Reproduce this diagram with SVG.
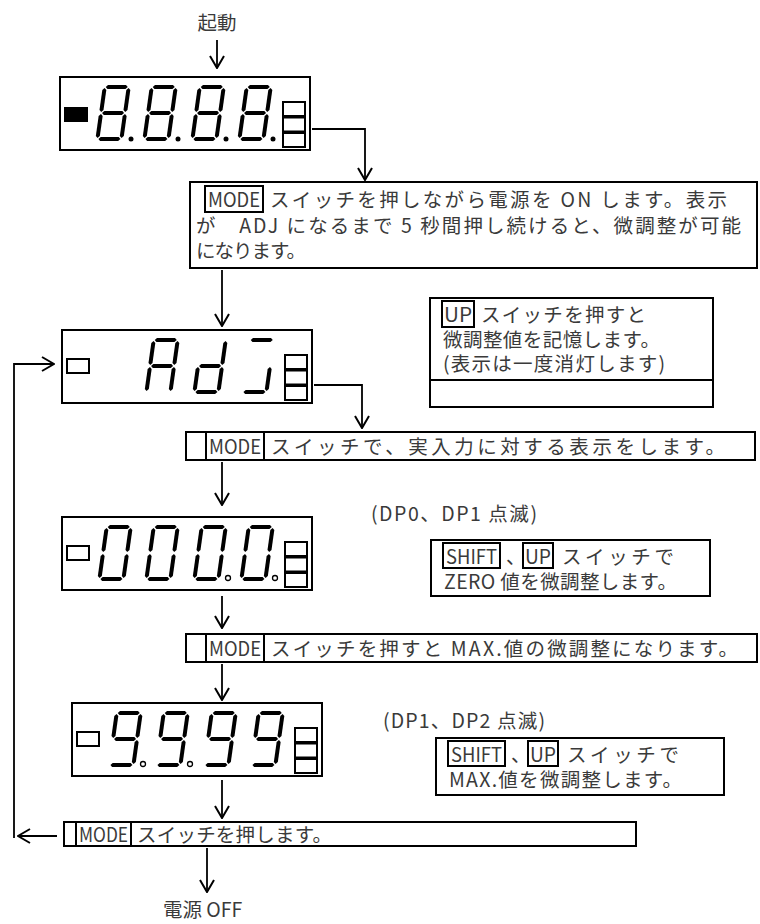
<svg xmlns="http://www.w3.org/2000/svg" xmlns:xlink="http://www.w3.org/1999/xlink" width="760" height="924" viewBox="0 0 760 924">
<style>
.box{fill:#fff;stroke:#000;stroke-width:2}
.kb{fill:none;stroke:#000;stroke-width:2}
.t{font-family:"Noto Sans CJK JP","Noto Sans",sans-serif;font-size:19.5px;fill:#3a3a3a}
.c{fill:none;stroke:#000;stroke-width:1.8}
.seg{fill:#000}
.dotf{fill:#000}
.doth{fill:#fff;stroke:#000;stroke-width:1.3}
.ind{fill:#fff;stroke:#000;stroke-width:2}
</style>
<defs>
<marker id="ah" viewBox="0 0 14 16" refX="13" refY="8" markerWidth="14" markerHeight="16" markerUnits="userSpaceOnUse" orient="auto">
<path d="M1,1 L13,8 L1,15" fill="none" stroke="#000" stroke-width="2"/>
</marker>
<polygon id="sa" points="3,2 5,0 23,0 25,2 23,4 5,4"/>
<polygon id="sb" points="26,3 28,5 28,25 26,27 24,25 24,5"/>
<polygon id="sc" points="26,29 28,31 28,51 26,53 24,51 24,31"/>
<polygon id="sd" points="3,54 5,52 23,52 25,54 23,56 5,56"/>
<polygon id="se" points="2,29 4,31 4,51 2,53 0,51 0,31"/>
<polygon id="sf" points="2,3 4,5 4,25 2,27 0,25 0,5"/>
<polygon id="sg" points="3,28 5,26 23,26 25,28 23,30 5,30"/>
<g id="d8" class="seg"><use href="#sa"/><use href="#sb"/><use href="#sc"/><use href="#sd"/><use href="#se"/><use href="#sf"/><use href="#sg"/></g>
<g id="d0" class="seg"><use href="#sa"/><use href="#sb"/><use href="#sc"/><use href="#sd"/><use href="#se"/><use href="#sf"/></g>
<g id="d9" class="seg"><use href="#sa"/><use href="#sb"/><use href="#sc"/><use href="#sd"/><use href="#sf"/><use href="#sg"/></g>
<g id="dA" class="seg"><use href="#sa"/><use href="#sb"/><use href="#sc"/><use href="#se"/><use href="#sf"/><use href="#sg"/></g>
<g id="dd" class="seg"><use href="#sb"/><use href="#sc"/><use href="#sd"/><use href="#se"/><use href="#sg"/></g>
<g id="dj" class="seg"><use href="#sa"/><use href="#sc"/><use href="#sd"/></g>
<g id="stack"><rect x="0" y="0" width="22" height="14" class="ind"/><rect x="0" y="15.5" width="22" height="14" class="ind"/><rect x="0" y="31" width="22" height="14" class="ind"/></g>
</defs>

<text class="t" x="217" y="30" text-anchor="middle">起動</text>

<g id="display1">
<rect class="box" x="60" y="77" width="250" height="73"/>
<rect x="64" y="107" width="24" height="15" fill="#000"/>
<use href="#d8" transform="translate(103,85) skewX(-8)"/>
<use href="#d8" transform="translate(150,85) skewX(-8)"/>
<use href="#d8" transform="translate(198,85) skewX(-8)"/>
<use href="#d8" transform="translate(245,85) skewX(-8)"/>
<circle class="dotf" cx="131" cy="139" r="2.5"/>
<circle class="dotf" cx="178" cy="139" r="2.5"/>
<circle class="dotf" cx="226" cy="139" r="2.5"/>
<circle class="dotf" cx="273" cy="139" r="2.5"/>
<use href="#stack" x="283" y="102"/>
</g>

<g id="box1">
<rect class="box" x="190" y="182" width="567" height="86"/>
<rect class="kb" x="205" y="186" width="58" height="26"/>
<text class="t" x="208" y="207" textLength="52" lengthAdjust="spacingAndGlyphs">MODE</text>
<text class="t" x="270" y="207" textLength="457" lengthAdjust="spacing">スイッチを押しながら電源を ON します。表示</text>
<text class="t" x="196" y="233" textLength="545" lengthAdjust="spacing">が　ADJ になるまで 5 秒間押し続けると、微調整が可能</text>
<text class="t" x="196" y="258" textLength="110" lengthAdjust="spacing">になります。</text>
</g>

<g id="display2">
<rect class="box" x="62" y="330" width="250" height="73"/>
<rect class="ind" x="67" y="359" width="22" height="14"/>
<use href="#dA" transform="translate(152,338) skewX(-8)"/>
<use href="#dd" transform="translate(200,338) skewX(-8)"/>
<use href="#dj" transform="translate(248,338) skewX(-8)"/>
<use href="#stack" x="285" y="355"/>
</g>

<g id="upbox">
<rect class="box" x="430" y="298" width="283" height="109"/>
<line x1="430" y1="380" x2="713" y2="380" stroke="#000" stroke-width="2"/>
<rect class="kb" x="442" y="301" width="32" height="26"/>
<text class="t" x="444" y="322" textLength="28" lengthAdjust="spacingAndGlyphs">UP</text>
<text class="t" x="481" y="322" textLength="165" lengthAdjust="spacing">スイッチを押すと</text>
<text class="t" x="443" y="347" textLength="217" lengthAdjust="spacing">微調整値を記憶します。</text>
<text class="t" x="443" y="371" textLength="222" lengthAdjust="spacing">(表示は一度消灯します)</text>
</g>

<g id="bar2">
<rect class="box" x="186" y="432" width="569" height="28"/>
<rect class="kb" x="206" y="432" width="58" height="28"/>
<text class="t" x="209" y="454" textLength="52" lengthAdjust="spacingAndGlyphs">MODE</text>
<text class="t" x="271" y="454" textLength="454" lengthAdjust="spacing">スイッチで、実入力に対する表示をします。</text>
</g>

<g id="display3">
<rect class="box" x="62" y="517" width="250" height="73"/>
<rect class="ind" x="67" y="546" width="22" height="14"/>
<use href="#d0" transform="translate(105,525) skewX(-8)"/>
<use href="#d0" transform="translate(152,525) skewX(-8)"/>
<use href="#d0" transform="translate(200,525) skewX(-8)"/>
<use href="#d0" transform="translate(247,525) skewX(-8)"/>
<circle class="doth" cx="228" cy="578" r="2.5"/>
<circle class="doth" cx="275" cy="578" r="2.5"/>
<use href="#stack" x="285" y="542"/>
</g>

<text class="t" x="371" y="521" textLength="166" lengthAdjust="spacing">(DP0、DP1 点滅)</text>

<g id="shift1">
<rect class="box" x="431" y="540" width="279" height="56"/>
<rect class="kb" x="443" y="543" width="57" height="25"/>
<text class="t" x="446" y="564" textLength="51" lengthAdjust="spacingAndGlyphs">SHIFT</text>
<text class="t" x="506" y="564">、</text>
<rect class="kb" x="523" y="543" width="30" height="25"/>
<text class="t" x="525" y="564" textLength="26" lengthAdjust="spacingAndGlyphs">UP</text>
<text class="t" x="562" y="564" textLength="112" lengthAdjust="spacing">スイッチで</text>
<text class="t" x="444" y="589" textLength="233" lengthAdjust="spacing">ZERO 値を微調整します。</text>
</g>

<g id="bar3">
<rect class="box" x="186" y="634" width="571" height="28"/>
<rect class="kb" x="206" y="634" width="58" height="28"/>
<text class="t" x="209" y="656" textLength="52" lengthAdjust="spacingAndGlyphs">MODE</text>
<text class="t" x="271" y="656" textLength="467" lengthAdjust="spacing">スイッチを押すと MAX.値の微調整になります。</text>
</g>

<g id="display4">
<rect class="box" x="72" y="703" width="250" height="73"/>
<rect class="ind" x="77" y="732" width="22" height="14"/>
<use href="#d9" transform="translate(115,711) skewX(-8)"/>
<use href="#d9" transform="translate(162,711) skewX(-8)"/>
<use href="#d9" transform="translate(210,711) skewX(-8)"/>
<use href="#d9" transform="translate(257,711) skewX(-8)"/>
<circle class="doth" cx="143" cy="764" r="2.5"/>
<circle class="doth" cx="190" cy="764" r="2.5"/>
<use href="#stack" x="295" y="728"/>
</g>

<text class="t" x="383" y="728" textLength="162" lengthAdjust="spacing">(DP1、DP2 点滅)</text>

<g id="shift2">
<rect class="box" x="436" y="738" width="288" height="57"/>
<rect class="kb" x="448" y="741" width="57" height="25"/>
<text class="t" x="451" y="762" textLength="51" lengthAdjust="spacingAndGlyphs">SHIFT</text>
<text class="t" x="511" y="762">、</text>
<rect class="kb" x="528" y="741" width="30" height="25"/>
<text class="t" x="530" y="762" textLength="26" lengthAdjust="spacingAndGlyphs">UP</text>
<text class="t" x="567" y="762" textLength="112" lengthAdjust="spacing">スイッチで</text>
<text class="t" x="449" y="787" textLength="233" lengthAdjust="spacing">MAX.値を微調整します。</text>
</g>

<g id="bar4">
<rect class="box" x="64" y="822" width="572" height="24"/>
<rect class="kb" x="76" y="822" width="55" height="24"/>
<text class="t" x="79" y="842" textLength="49" lengthAdjust="spacingAndGlyphs">MODE</text>
<text class="t" x="137" y="842" textLength="195" lengthAdjust="spacing">スイッチを押します。</text>
</g>

<text class="t" x="163" y="917">電源 OFF</text>

<g id="connectors">
<line class="c" x1="217" y1="40" x2="217" y2="68" marker-end="url(#ah)"/>
<path class="c" d="M312,129 H365 V180" marker-end="url(#ah)"/>
<line class="c" x1="222" y1="270" x2="222" y2="326" marker-end="url(#ah)"/>
<path class="c" d="M314,385 H362 V428" marker-end="url(#ah)"/>
<line class="c" x1="222" y1="462" x2="222" y2="505" marker-end="url(#ah)"/>
<line class="c" x1="222" y1="596" x2="222" y2="628" marker-end="url(#ah)"/>
<line class="c" x1="222" y1="664" x2="222" y2="700" marker-end="url(#ah)"/>
<line class="c" x1="222" y1="780" x2="222" y2="818" marker-end="url(#ah)"/>
<line class="c" x1="207" y1="848" x2="207" y2="892" marker-end="url(#ah)"/>
<line class="c" x1="57" y1="836" x2="18" y2="836" marker-end="url(#ah)"/>
<path class="c" d="M14,838 V364 H54" marker-end="url(#ah)"/>
</g>
</svg>
